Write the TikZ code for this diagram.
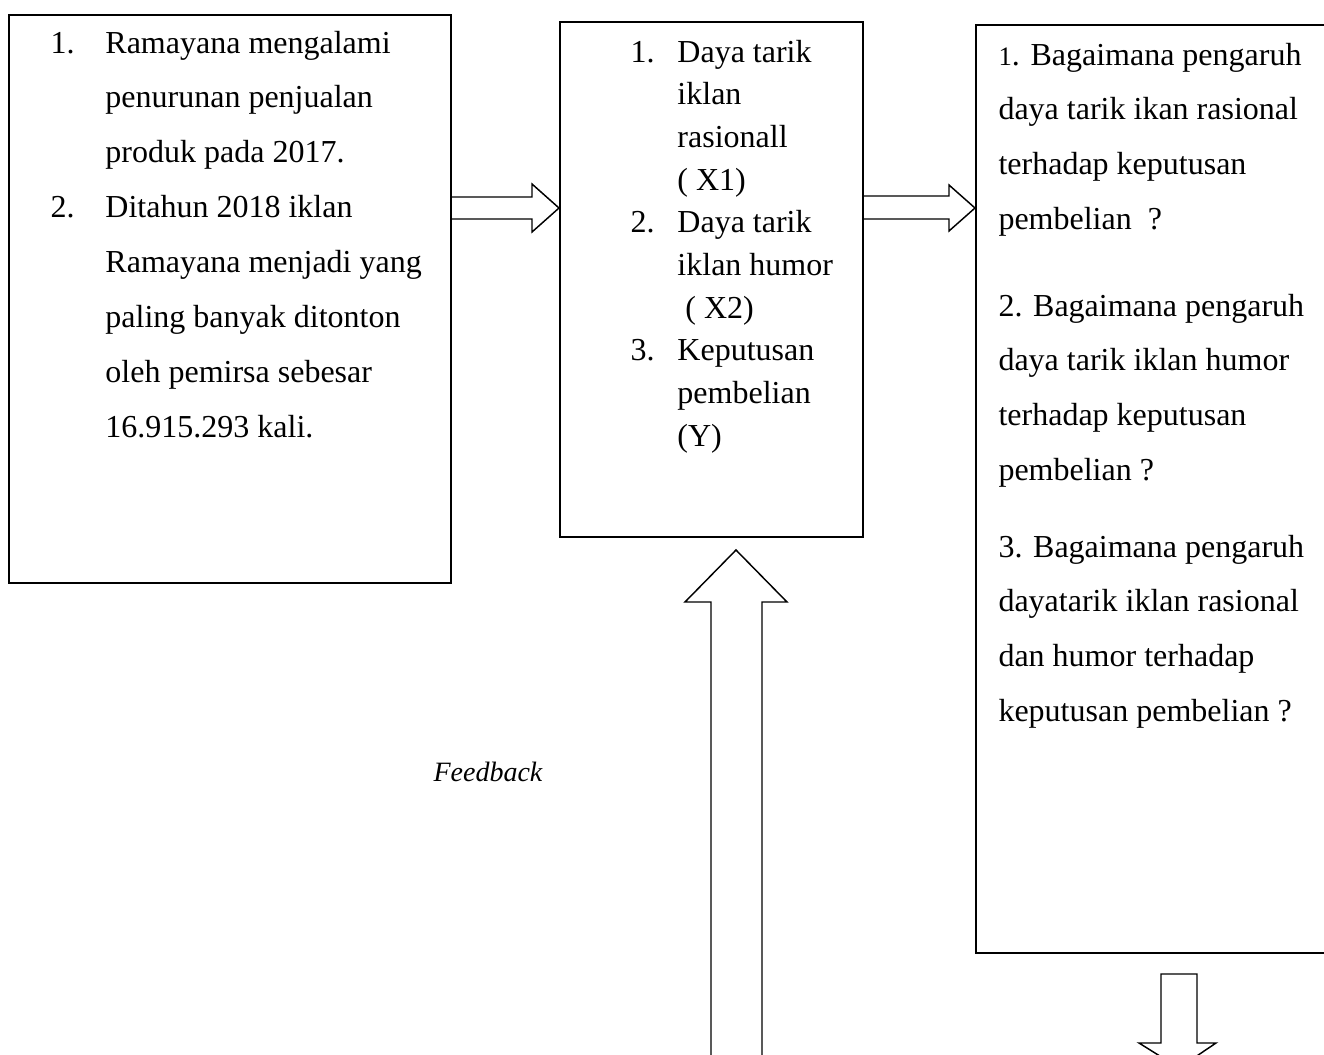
\documentclass[tikz,border=0pt]{standalone}
\usepackage{fontspec}
\setmainfont{Liberation Serif}
\begin{document}
\begin{tikzpicture}[x=0.375pt,y=-0.375pt,
    box/.style={draw,line width=0.75pt,inner sep=0pt,anchor=north west},
    boxtext/.style={inner sep=0pt,anchor=base west,font=\fontsize{12}{20.6}\selectfont},
    blockarrow/.style={draw,line width=0.55pt,line join=miter}]
\clip (0,0) rectangle (1324,1055);

% the three boxes
\node (latar) [box,minimum width=442*0.375pt,minimum height=568*0.375pt] at (8,14) {};
\node (variabel) [box,minimum width=303*0.375pt,minimum height=515*0.375pt] at (559,21) {};
\node (rumusan) [box,minimum width=370*0.375pt,minimum height=928*0.375pt] at (975,24) {};

% texts
\node (latartext) [boxtext] at (50,53) {\begin{tabular}[t]{@{}p{20.6pt}@{}l@{}}
1. & Ramayana mengalami\\
   & penurunan penjualan\\
   & produk pada 2017.\\
2. & Ditahun 2018 iklan\\
   & Ramayana menjadi yang\\
   & paling banyak ditonton\\
   & oleh pemirsa sebesar\\
   & 16.915.293 kali.
\end{tabular}};
\node (variabeltext) [boxtext,font=\fontsize{12}{16}\selectfont] at (630,62) {\begin{tabular}[t]{@{}p{17.6pt}@{}l@{}}
1. & Daya tarik\\
   & iklan\\
   & rasionall\\
   & ( X1)\\
2. & Daya tarik\\
   & iklan humor\\
   & \ ( X2)\\
3. & Keputusan\\
   & pembelian\\
   & (Y)
\end{tabular}};
\node (rumusan1) [boxtext] at (998,65) {\begin{tabular}[t]{@{}l@{}}
{\fontsize{10}{12}\selectfont 1}. Bagaimana pengaruh\\
daya tarik ikan rasional\\
terhadap keputusan\\
pembelian\ \ ?
\end{tabular}};
\node (rumusan2) [boxtext] at (998,316) {\begin{tabular}[t]{@{}l@{}}
2. Bagaimana pengaruh\\
daya tarik iklan humor\\
terhadap keputusan\\
pembelian ?
\end{tabular}};
\node (rumusan3) [boxtext] at (998,557) {\begin{tabular}[t]{@{}l@{}}
3. Bagaimana pengaruh\\
dayatarik iklan rasional\\
dan humor terhadap\\
keputusan pembelian ?
\end{tabular}};
\node (feedback) [inner sep=0pt,anchor=base,font=\fontsize{10.5}{12}\selectfont\itshape] at (488,781) {Feedback};

% block arrows
\draw[blockarrow] (latar.east |- 0,197) -- (532,197) -- (532,184) -- (variabel.west |- 0,208)
    -- (532,232) -- (532,219) -- (latar.east |- 0,219);
\draw[blockarrow] (variabel.east |- 0,196) -- (949,196) -- (949,185) -- (rumusan.west |- 0,208)
    -- (949,231) -- (949,219) -- (variabel.east |- 0,219);
\coordinate (fbtip) at (736,550);
\draw[blockarrow] (711,1070) -- (711,602) -- (685,602) -- (fbtip) -- (787,602) -- (762,602) -- (762,1070);
\coordinate (hasiltop) at (1179,974);
\draw[blockarrow] (hasiltop) -- (1197,974) -- (1197,1043) -- (1216,1043) -- (1179,1068)
    -- (1139,1043) -- (1161,1043) -- (1161,974) -- cycle;
\end{tikzpicture}
\end{document}
